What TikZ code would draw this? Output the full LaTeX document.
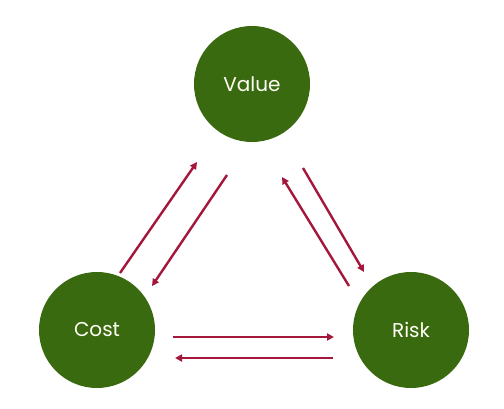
\documentclass[tikz,border=0pt]{standalone}
\usepackage{fontspec}
\setmainfont{Poppins}
\usetikzlibrary{arrows.meta}
\definecolor{leaf}{HTML}{3A6A10}
\definecolor{crim}{HTML}{A3173B}
\tikzset{
  blob/.style={circle, fill=leaf, minimum size=116pt, inner sep=0pt, text=white!96!yellow, font=\fontsize{20}{24}\selectfont},
  link/.style={draw=crim, line width=2.4pt, -{Triangle[length=7pt,width=7pt]}}
}
\begin{document}
\begin{tikzpicture}[x=1pt,y=-1pt]
\useasboundingbox (0,0) rectangle (504,409);
\node[blob] (value) at (252,84) {Value};
\node[blob] (cost) at (97,330) {Cost};
\node[blob] (risk) at (411,330) {Risk};
\coordinate (a1) at (120,273); \coordinate (a2) at (197,162);
\coordinate (b1) at (227,175); \coordinate (b2) at (152,286);
\coordinate (c1) at (349,286); \coordinate (c2) at (282,177);
\coordinate (d1) at (303,168); \coordinate (d2) at (364,272);
\coordinate (e1) at (173,337); \coordinate (e2) at (334,337);
\coordinate (f1) at (333,358); \coordinate (f2) at (175,358);
\draw[link] (a1) -- (a2);
\draw[link] (b1) -- (b2);
\draw[link] (c1) -- (c2);
\draw[link] (d1) -- (d2);
\draw[link] (e1) -- (e2);
\draw[link] (f1) -- (f2);
\end{tikzpicture}
\end{document}
